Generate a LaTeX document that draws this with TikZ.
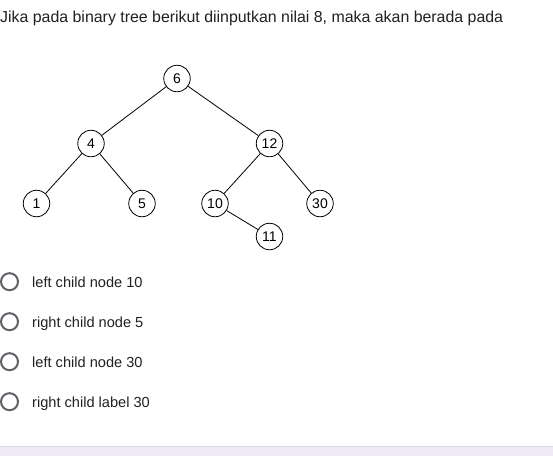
\documentclass[tikz,border=0pt]{standalone}
\usepackage{fontspec}
\setmainfont{Liberation Sans}
\definecolor{txt}{HTML}{202124}
\definecolor{radio}{HTML}{5F6368}
\definecolor{band}{HTML}{EEEAF8}
\definecolor{bandline}{HTML}{DADCE0}
\begin{document}
\begin{tikzpicture}[x=1pt,y=-1pt,
  tnode/.style={circle,draw=black,line width=0.8pt,minimum size=26.5pt,inner sep=0pt,font=\fontsize{14}{16}\selectfont},
  edge/.style={draw=black,line width=0.8pt},
  radiobtn/.style={circle,draw=radio,line width=2pt,minimum size=17pt,inner sep=0pt},
  opt/.style={anchor=base west,inner sep=0pt,text=txt,font=\fontsize{14.6}{17}\selectfont}]
\useasboundingbox (0,0) rectangle (553,456);
\fill[white] (0,0) rectangle (553,456);
% bottom band
\fill[band] (0,446) rectangle (553,456);
\draw[bandline,line width=1pt] (0,446.5) -- (553,446.5);
% title
\node[anchor=base west,inner sep=0pt,text=txt,font=\fontsize{15.9}{18}\selectfont] (title) at (0,22) {Jika pada binary tree berikut diinputkan nilai 8, maka akan berada pada};
% tree
\node[tnode] (n6) at (177,78.5) {6};
\node[tnode] (n4) at (91,143.5) {4};
\node[tnode] (n12) at (269.5,143.5) {12};
\node[tnode] (n1) at (36.5,203.5) {1};
\node[tnode] (n5) at (142,203.5) {5};
\node[tnode] (n10) at (215,203.5) {10};
\node[tnode] (n30) at (320,203.5) {30};
\node[tnode] (n11) at (269.5,236.5) {11};
\draw[edge] (n6) -- (n4);
\draw[edge] (n6) -- (n12);
\draw[edge] (n4) -- (n1);
\draw[edge] (n4) -- (n5);
\draw[edge] (n12) -- (n10);
\draw[edge] (n12) -- (n30);
\draw[edge] (n10) -- (n11);
% options
\node[radiobtn] (r1) at (9.5,281.7) {};
\node[radiobtn] (r2) at (9.5,321.7) {};
\node[radiobtn] (r3) at (9.5,361.7) {};
\node[radiobtn] (r4) at (9.5,401.7) {};
\node[opt] (o1) at (32,287) {left child node 10};
\node[opt] (o2) at (32,327) {right child node 5};
\node[opt] (o3) at (32,367) {left child node 30};
\node[opt] (o4) at (32,407) {right child label 30};
\end{tikzpicture}
\end{document}
